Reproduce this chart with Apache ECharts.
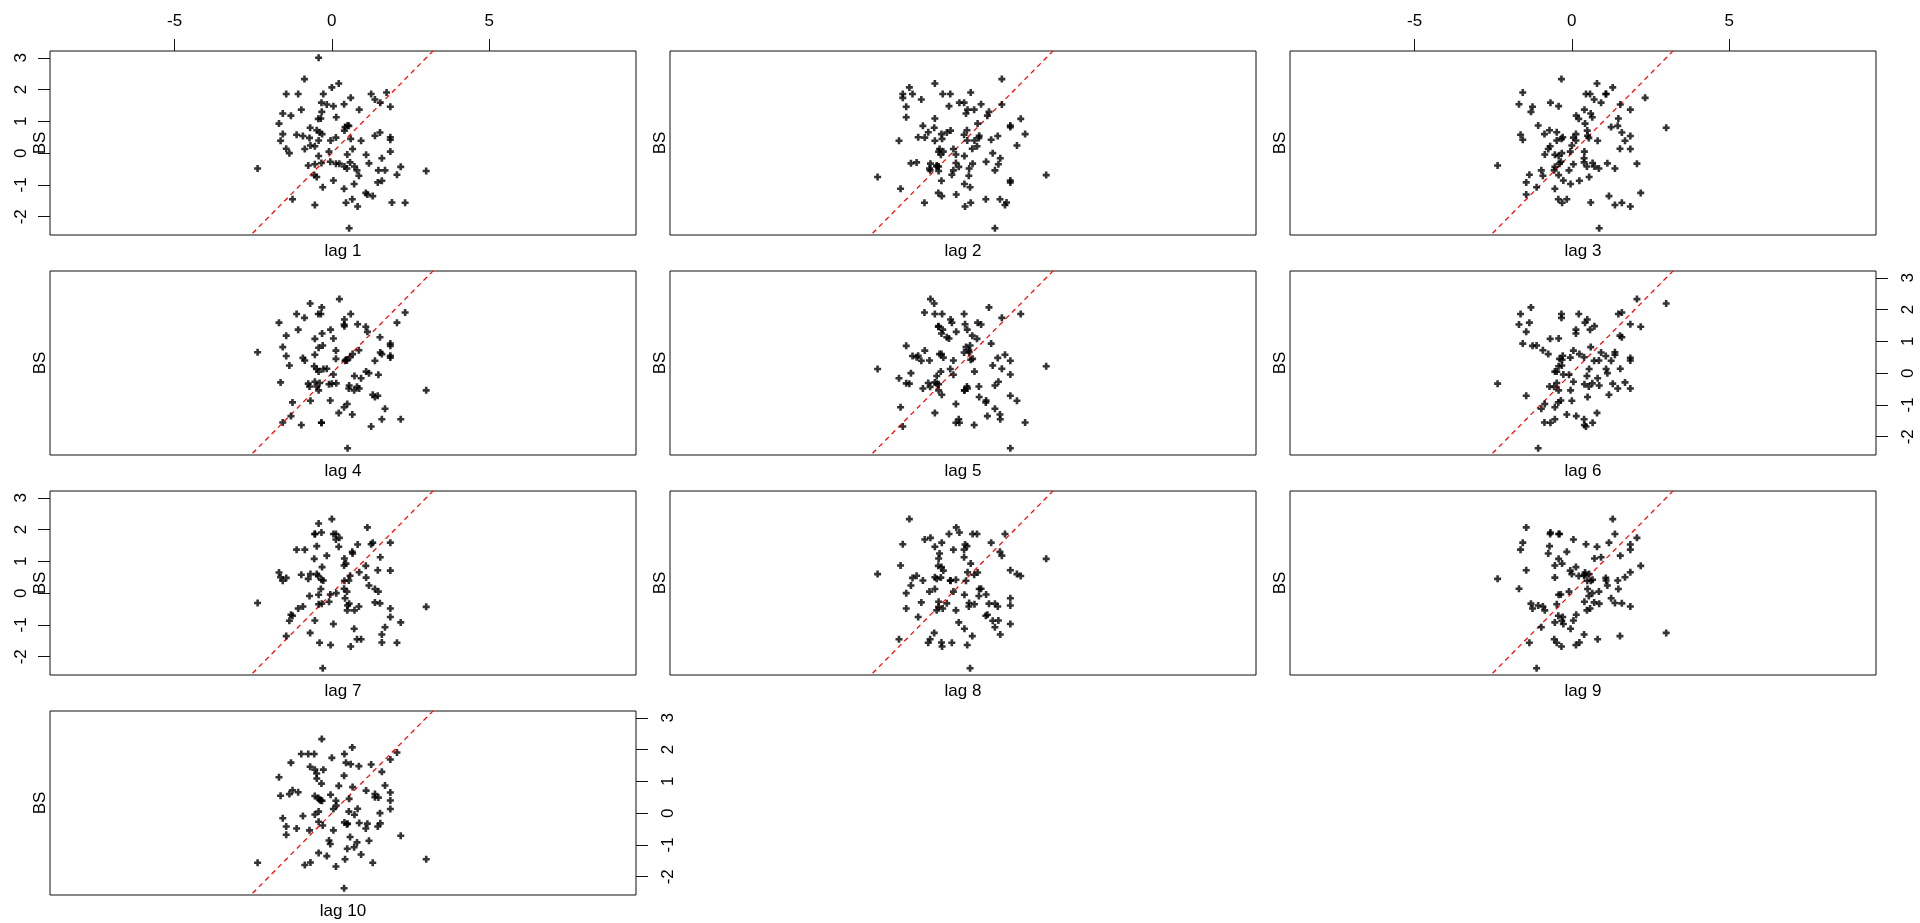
<!DOCTYPE html>
<html>
<head>
<meta charset="utf-8">
<title>Lag plots of BS</title>
<script src="https://cdn.jsdelivr.net/npm/echarts@6/dist/echarts.min.js"></script>
<style>
  html, body { margin: 0; padding: 0; background: #ffffff; }
  #chart { width: 1920px; height: 923px; }
</style>
</head>
<body>
<div id="chart"></div>
<script>
// Series BS, in time order
const seriesName = 'BS';
const bs = [
  -0.42, 3.00, -0.56, -0.69, 0.80, -0.54, 0.22, 2.19, -0.43, 1.08,
  -1.25, -1.45, 1.86, 1.46, -0.92, 0.54, 0.86, -0.71, 0.48, -0.48,
  0.72, -0.42, 0.40, -0.42, -0.09, 0.05, 1.48, -0.54, -0.35, 1.09,
  -0.05, -0.27, 1.86, 0.05, -0.86, 0.13, 0.49, -0.04, 0.40, 0.71,
  -0.97, 1.37, 1.69, -0.54, -1.63, 0.39, -1.12, 0.58, -0.29, -1.07,
  1.86, 0.50, 0.87, 1.37, 0.55, -2.36, -0.48, -0.75, -0.39, 0.66,
  0.13, -0.33, -0.31, 0.60, 0.45, -1.56, 1.25, 1.86, 0.42, 0.82,
  -1.68, 0.93, 0.39, 1.54, 1.59, -0.16, 1.53, 0.65, -1.45, 0.14,
  1.13, -1.30, 1.18, -0.32, 1.30, -1.35, 0.00, 2.07, -0.68, 0.24,
  -0.33, 1.59, -0.87, 2.33, -1.56, 0.60, 1.74, 1.91, -1.55
];

// Lags shown, one panel each
const lags = [1, 2, 3, 4, 5, 6, 7, 8, 9, 10];

// Tick values
const xTicks = [-5, 0, 5];
const yTicks = [-2, -1, 0, 1, 2, 3];

// Which panels carry tick labels, and on which side
const topAxisLags = [1, 3];
const leftAxisLags = [1, 7];
const rightAxisLags = [6, 10];

// Panel layout (pixels)
const colLeft = [50, 670, 1290];
const rowTop = [51, 271, 491, 711];
const panelW = 586;
const panelH = 184;

// Value ranges: data range widened by 4%, x stretched for equal aspect
const lo = Math.min(...bs), hi = Math.max(...bs);
const pad = (hi - lo) * 0.04;
const yRange = [lo - pad, hi + pad];
const xRange = [-8.96, 9.67];

const font = 'Liberation Sans, Arial, Helvetica, sans-serif';
const fontSize = 17;
const ink = '#111111';
const plusSymbol = 'path://M2.2 0H4.8V2.2H7V4.8H4.8V7H2.2V4.8H0V2.2H2.2Z';

const grids = [], xAxes = [], yAxes = [], seriesList = [], labels = [];
const hidden = { show: false };
const tickStyle = { color: ink, width: 1 };
const labelText = { fontFamily: font, fontSize: fontSize, color: '#000' };

lags.forEach((k, i) => {
  const row = Math.floor(i / 3), col = i % 3;
  const left = colLeft[col], top = rowTop[row];
  grids.push({
    left: left, top: top, width: panelW, height: panelH,
    show: true, borderColor: ink, borderWidth: 1, backgroundColor: 'transparent',
    containLabel: false, outerBoundsMode: 'none'
  });

  const xIdx = xAxes.length;
  xAxes.push({
    gridIndex: i, type: 'value', min: xRange[0], max: xRange[1], position: 'bottom',
    name: 'lag ' + k, nameLocation: 'middle', nameGap: 8,
    nameTextStyle: labelText,
    axisLine: { show: false, onZero: false }, axisTick: hidden, axisLabel: hidden, splitLine: hidden
  });
  if (topAxisLags.includes(k)) {
    xAxes.push({
      gridIndex: i, type: 'value', min: xRange[0], max: xRange[1], position: 'top',
      axisLine: { show: false, onZero: false },
      axisTick: { show: true, length: 12, customValues: xTicks, lineStyle: tickStyle },
      axisLabel: Object.assign({ show: true, customValues: xTicks, margin: 21 }, labelText),
      splitLine: hidden
    });
  }

  const yIdx = yAxes.length;
  const leftLabels = leftAxisLags.includes(k);
  yAxes.push({
    gridIndex: i, type: 'value', min: yRange[0], max: yRange[1], position: 'left',
    axisLine: { show: false, onZero: false },
    axisTick: { show: leftLabels, length: 12, customValues: yTicks, lineStyle: tickStyle },
    axisLabel: Object.assign({ show: leftLabels, customValues: yTicks, rotate: 90, margin: 20 }, labelText),
    splitLine: hidden
  });
  if (rightAxisLags.includes(k)) {
    yAxes.push({
      gridIndex: i, type: 'value', min: yRange[0], max: yRange[1], position: 'right',
      axisLine: { show: false, onZero: false },
      axisTick: { show: true, length: 12, customValues: yTicks, lineStyle: tickStyle },
      axisLabel: Object.assign({ show: true, customValues: yTicks, rotate: 90, margin: 24 }, labelText),
      splitLine: hidden
    });
  }

  // y-axis title beside each panel
  labels.push({
    type: 'text', x: left - 10, y: top + panelH / 2, rotation: Math.PI / 2,
    style: { text: seriesName, fill: '#000', font: fontSize + 'px ' + font, align: 'center', verticalAlign: 'middle' }
  });

  // y = x reference line
  seriesList.push({
    type: 'line', xAxisIndex: xIdx, yAxisIndex: yIdx, silent: true, z: 1,
    symbol: 'none', clip: true,
    data: [[xRange[0], xRange[0]], [xRange[1], xRange[1]]],
    lineStyle: { color: '#ff0000', width: 1.2, type: [5, 4] }
  });

  // lagged pairs
  const pts = [];
  for (let t = 0; t + k < bs.length; t++) pts.push([bs[t], bs[t + k]]);
  seriesList.push({
    type: 'scatter', xAxisIndex: xIdx, yAxisIndex: yIdx, z: 2,
    symbol: plusSymbol, symbolSize: 7,
    itemStyle: { color: '#000' },
    data: pts
  });
});

const chart = echarts.init(document.getElementById('chart'), null, { renderer: 'canvas' });
chart.setOption({
  animation: false,
  backgroundColor: '#ffffff',
  grid: grids,
  xAxis: xAxes,
  yAxis: yAxes,
  series: seriesList,
  graphic: labels
});
</script>
</body>
</html>
